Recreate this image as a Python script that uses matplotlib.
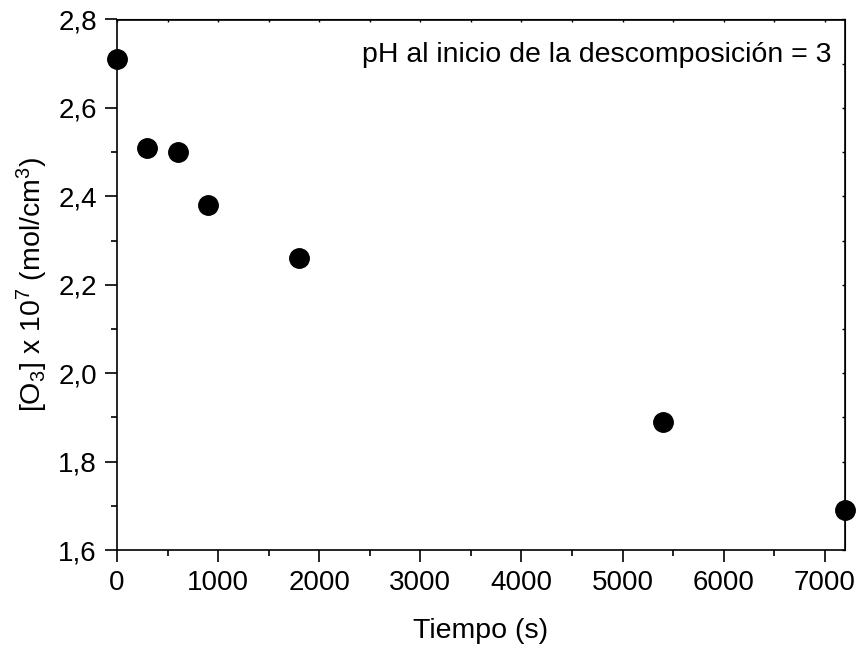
import matplotlib
matplotlib.use('Agg')
import matplotlib.pyplot as plt
from matplotlib.ticker import MultipleLocator, FuncFormatter

plt.rcParams['font.family'] = ['Liberation Sans', 'DejaVu Sans']
plt.rcParams['mathtext.default'] = 'regular'

# Data
tiempo = [0, 300, 600, 900, 1800, 5400, 7200]
ozono = [2.71, 2.51, 2.50, 2.38, 2.26, 1.89, 1.69]

fig = plt.figure(figsize=(8.59, 6.5), dpi=100)
ax = fig.add_axes([0.1362, 0.1538, 0.8475, 0.8162])

ax.plot(tiempo, ozono, 'o', color='black', markersize=14, clip_on=False, zorder=3)

ax.set_xlim(0, 7200)
ax.set_ylim(1.6, 2.8)
ax.xaxis.set_major_locator(MultipleLocator(1000))
ax.xaxis.set_minor_locator(MultipleLocator(500))
ax.yaxis.set_major_locator(MultipleLocator(0.2))
ax.yaxis.set_minor_locator(MultipleLocator(0.1))
ax.yaxis.set_major_formatter(FuncFormatter(lambda v, p: f"{v:.1f}".replace('.', ',')))

for s in ax.spines.values():
    s.set_linewidth(1.2)

ax.tick_params(which='both', direction='out', labelsize=20, width=1.2)
ax.tick_params(which='major', length=8.5, pad=6)
ax.tick_params(which='minor', length=4)

# tiny inward ticks on top and right
ax2 = ax.secondary_xaxis('top')
ax2.xaxis.set_major_locator(MultipleLocator(1000))
ax2.xaxis.set_minor_locator(MultipleLocator(500))
ax2.tick_params(which='both', direction='in', labeltop=False, width=1, length=2)
ay2 = ax.secondary_yaxis('right')
ay2.yaxis.set_major_locator(MultipleLocator(0.2))
ay2.yaxis.set_minor_locator(MultipleLocator(0.1))
ay2.tick_params(which='both', direction='in', labelright=False, width=1, length=2)

ax.set_xlabel('Tiempo (s)', fontsize=20.5, labelpad=16)
ax.set_ylabel(r'[O$_3$] x 10$^7$ (mol/cm$^3$)', fontsize=20.5, labelpad=6)

ax.text(0.982, 0.958, 'pH al inicio de la descomposición = 3', transform=ax.transAxes,
        ha='right', va='top', fontsize=20.5)

fig.savefig('out.png', dpi=100)
